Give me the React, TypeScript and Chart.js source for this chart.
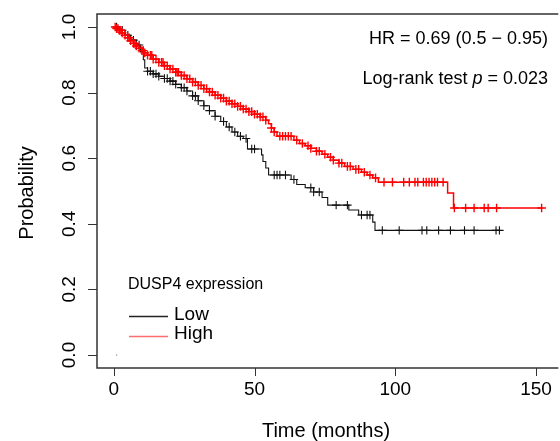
import React, { useEffect, useRef } from "react";
import { Chart, registerables } from "chart.js";

Chart.register(...registerables);

// Kaplan-Meier step data (time in months, survival probability)
const lowTimes = [0, 2, 4, 6, 8, 9.5, 10.5, 11, 12, 14, 16, 18, 20, 22, 24, 26, 28, 30, 32, 34, 36, 38, 40, 42, 44, 46, 47.5, 52.5, 53, 54, 55, 63, 65, 68, 71, 74, 76, 83.5, 87, 92, 92.8, 137];
const lowSurv = [1.0, 0.99, 0.975, 0.96, 0.945, 0.925, 0.9, 0.875, 0.865, 0.857, 0.85, 0.843, 0.835, 0.825, 0.815, 0.805, 0.79, 0.775, 0.76, 0.745, 0.728, 0.712, 0.695, 0.68, 0.667, 0.66, 0.628, 0.61, 0.59, 0.57, 0.549, 0.535, 0.52, 0.51, 0.497, 0.48, 0.457, 0.442, 0.427, 0.405, 0.38, 0.38];
const lowCensor = [1, 2, 3, 5, 7, 9, 12, 13, 14, 15, 16, 18, 19, 20, 21, 22, 24, 25, 26, 28, 29, 30, 32, 34, 36, 39, 41, 43, 45, 47, 49, 50, 57, 58, 59, 61, 64, 70, 71, 73, 79, 83, 88, 90, 91, 95.4, 101.4, 109.5, 111.2, 115.4, 119.6, 124.6, 128, 135.8, 137];

const highTimes = [0, 1, 2, 3, 4, 5, 6, 7, 8, 9, 10, 11, 12, 14, 16, 18, 20, 22, 24, 26, 28, 30, 32, 34, 36, 38, 40, 42, 44, 46, 48, 50, 52, 54, 55, 56, 57, 58, 64, 66, 68, 70, 72, 74, 76, 78, 80, 82, 85, 88, 90, 92, 94, 118.6, 120.7, 152];
const highSurv = [1.0, 0.995, 0.99, 0.982, 0.975, 0.967, 0.958, 0.95, 0.942, 0.935, 0.928, 0.921, 0.914, 0.902, 0.892, 0.882, 0.872, 0.862, 0.852, 0.842, 0.832, 0.822, 0.812, 0.802, 0.792, 0.783, 0.774, 0.766, 0.758, 0.75, 0.742, 0.734, 0.726, 0.716, 0.705, 0.692, 0.68, 0.667, 0.655, 0.645, 0.638, 0.63, 0.621, 0.612, 0.603, 0.594, 0.585, 0.575, 0.566, 0.557, 0.549, 0.54, 0.527, 0.494, 0.448, 0.448];
const highCensor = [0.5, 1, 1.5, 2, 2.5, 3, 4, 5, 5.5, 6, 7, 7.5, 8, 9, 10, 10.5, 11, 12, 13, 13.5, 14, 15, 16, 17, 17.5, 18, 19, 20, 21, 22, 22.5, 23, 24, 25, 26, 27, 28, 29, 30, 31, 32, 33, 34, 35, 36, 37, 38, 39, 40, 41, 42, 43, 44, 45, 46, 47, 48, 49, 50, 51, 52, 53, 54, 56, 57, 59, 60, 61, 62, 63, 65, 67, 69, 70, 72, 73, 75, 77, 78, 80, 81, 83, 84, 86, 87, 89, 91, 93, 96, 99, 103, 105, 107, 108, 110, 111, 112, 113, 114, 115, 117, 121, 125, 128, 131.6, 133, 136, 152];

const xTicks = [0, 50, 100, 150];
const yTicks = [0, 0.2, 0.4, 0.6, 0.8, 1.0];
const yTickLabels = ["0.0", "0.2", "0.4", "0.6", "0.8", "1.0"];
const legendTitle = "DUSP4 expression";
const groupNames = ["Low", "High"];
const hrText = "HR = 0.69 (0.5 \u2212 0.95)";
const pValue = "0.023";

const FONT = '"Liberation Sans", Arial, Helvetica, sans-serif';

function survAt(times: number[], surv: number[], t: number) {
  let v = surv[0];
  for (let i = 0; i < times.length; i++) if (times[i] <= t) v = surv[i];
  return v;
}

const overlay = {
  id: "rOverlay",
  afterDraw(chart: any) {
    const ctx = chart.ctx;
    const xs = chart.scales.x;
    const ys = chart.scales.y;
    const a = chart.chartArea;
    ctx.save();
    // box
    ctx.strokeStyle = "#333";
    ctx.lineWidth = 1.5;
    ctx.beginPath();
    ctx.moveTo(a.right + 4, a.top);
    ctx.lineTo(a.left, a.top);
    ctx.lineTo(a.left, a.bottom);
    ctx.lineTo(a.right + 4, a.bottom);
    ctx.stroke();
    // ticks
    ctx.lineWidth = 1;
    ctx.beginPath();
    xTicks.forEach((v) => {
      const px = Math.round(xs.getPixelForValue(v)) + 0.5;
      ctx.moveTo(px, a.bottom);
      ctx.lineTo(px, a.bottom + 8);
    });
    yTicks.forEach((v) => {
      const py = Math.round(ys.getPixelForValue(v)) + 0.5;
      ctx.moveTo(a.left, py);
      ctx.lineTo(a.left - 9, py);
    });
    ctx.stroke();
    // tick labels
    ctx.fillStyle = "#000";
    ctx.font = `19px ${FONT}`;
    ctx.textAlign = "center";
    ctx.textBaseline = "middle";
    xTicks.forEach((v) => {
      ctx.fillText(String(v), xs.getPixelForValue(v), 390);
    });
    yTicks.forEach((v, i) => {
      ctx.save();
      ctx.translate(70, ys.getPixelForValue(v));
      ctx.rotate(-Math.PI / 2);
      ctx.fillText(yTickLabels[i], 0, 0);
      ctx.restore();
    });
    // axis titles
    ctx.font = `20px ${FONT}`;
    ctx.fillText("Time (months)", 326, 431);
    ctx.save();
    ctx.translate(27, 193);
    ctx.rotate(-Math.PI / 2);
    ctx.fillText("Probability", 0, 0);
    ctx.restore();
    // HR / p annotations
    ctx.textAlign = "right";
    ctx.font = `18px ${FONT}`;
    ctx.fillText(hrText, 548, 39);
    const rightX = 548;
    const part3 = " = " + pValue;
    const w3 = ctx.measureText(part3).width;
    ctx.fillText(part3, rightX, 79);
    ctx.font = `italic 18px ${FONT}`;
    const w2 = ctx.measureText("p").width;
    ctx.fillText("p", rightX - w3, 79);
    ctx.font = `18px ${FONT}`;
    ctx.fillText("Log-rank test ", rightX - w3 - w2, 79);
    // legend
    ctx.textAlign = "left";
    ctx.font = `16px ${FONT}`;
    ctx.fillText(legendTitle, 128, 285);
    ctx.lineWidth = 1.3;
    ctx.strokeStyle = "#222";
    ctx.beginPath();
    ctx.moveTo(129, 316.5);
    ctx.lineTo(168, 316.5);
    ctx.stroke();
    ctx.strokeStyle = "rgba(255,60,60,0.75)";
    ctx.beginPath();
    ctx.moveTo(129, 336.5);
    ctx.lineTo(168, 336.5);
    ctx.stroke();
    ctx.font = `19px ${FONT}`;
    ctx.fillText(groupNames[0], 174, 315);
    ctx.fillText(groupNames[1], 174, 334);
    ctx.restore();
  },
};

export default function App() {
  const ref = useRef<HTMLCanvasElement>(null);
  useEffect(() => {
    if (!ref.current) return;
    const lowLine = lowTimes.map((t, i) => ({ x: t, y: lowSurv[i] }));
    const highLine = highTimes.map((t, i) => ({ x: t, y: highSurv[i] }));
    const lowPts = lowCensor.map((t) => ({ x: t, y: survAt(lowTimes, lowSurv, t) }));
    const highPts = highCensor.map((t) => ({ x: t, y: survAt(highTimes, highSurv, t) }));
    const chart = new Chart(ref.current, {
      type: "line",
      data: {
        datasets: [
          { data: highPts, showLine: false, pointStyle: "cross", pointRadius: 4.3, borderColor: "#ff0000", borderWidth: 1.4, pointBorderColor: "#ff0000" } as any,
          { data: highLine, stepped: "before", borderColor: "#ff0000", borderWidth: 1.5, pointRadius: 0, fill: false } as any,
          { data: lowPts, showLine: false, pointStyle: "cross", pointRadius: 4.2, borderColor: "#111", borderWidth: 1.1, pointBorderColor: "#111" } as any,
          { data: lowLine, stepped: "before", borderColor: "#111", borderWidth: 1.1, pointRadius: 0, fill: false } as any,
          { data: [{ x: 1, y: 0 }], showLine: false, pointRadius: 0.8, pointBackgroundColor: "#999", pointBorderColor: "#999", borderWidth: 0 } as any,
        ],
      },
      options: {
        animation: false,
        responsive: false,
        devicePixelRatio: 1,
        layout: { padding: { left: 97, top: 14, right: 0, bottom: 73 } },
        plugins: { legend: { display: false }, tooltip: { enabled: false } },
        scales: {
          x: { type: "linear", display: false, min: -5.96, max: 156.5 },
          y: { type: "linear", display: false, min: -0.0396, max: 1.0396 },
        },
      },
      plugins: [overlay],
    });
    return () => chart.destroy();
  }, []);
  return (
    <div style={{ position: "absolute", left: 0, top: 0, width: 560, height: 441, background: "#fff" }}>
      <canvas ref={ref} width={560} height={441} style={{ width: 560, height: 441 }} />
    </div>
  );
}
